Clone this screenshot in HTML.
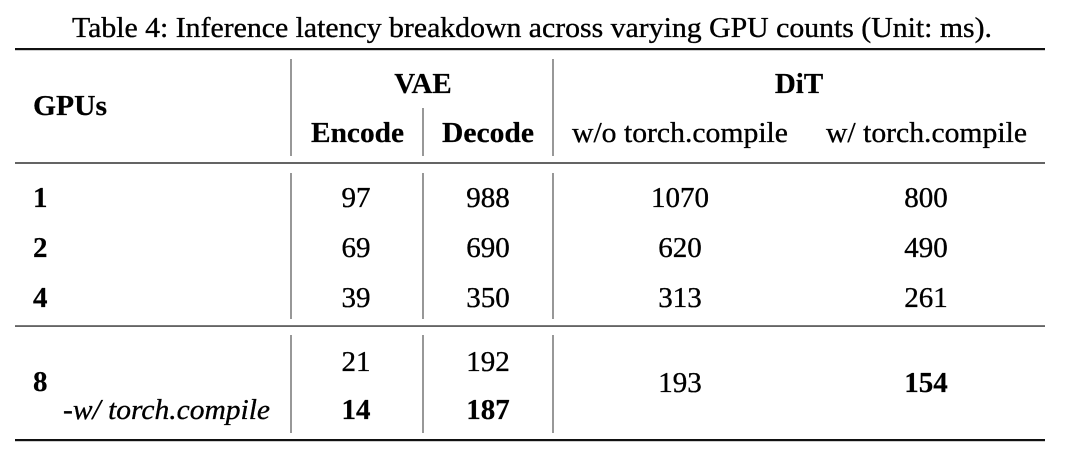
<!DOCTYPE html>
<html>
<head>
<meta charset="utf-8">
<style>
  html, body { margin: 0; padding: 0; background: #ffffff; }
  svg { display: block; }
  text { font-family: "Liberation Serif", "Times New Roman", serif; fill: #000000; stroke: #000000; stroke-width: 0.35px; font-size: 29px; }
  .b { font-weight: bold; stroke-width: 0.2px; }
  .i { font-style: italic; }
</style>
</head>
<body>
<svg width="1080" height="461" viewBox="0 0 1080 461" xmlns="http://www.w3.org/2000/svg">
  <rect x="0" y="0" width="1080" height="461" fill="#ffffff"/>

  <!-- Title -->
  <text x="72" y="37" textLength="920" lengthAdjust="spacingAndGlyphs">Table 4: Inference latency breakdown across varying GPU counts (Unit: ms).</text>

  <!-- Rules -->
  <rect x="15" y="48" width="1030" height="2.2" fill="#111"/>
  <rect x="15" y="162.3" width="1030" height="1.4" fill="#222"/>
  <rect x="15" y="325.4" width="1030" height="1.3" fill="#222"/>
  <rect x="15" y="439" width="1030" height="2.2" fill="#111"/>

  <!-- Vertical lines -->
  <g stroke="#6b6b6b" stroke-width="1.4">
    <line x1="291" y1="59" x2="291" y2="156"/>
    <line x1="553" y1="59" x2="553" y2="156"/>
    <line x1="423" y1="108" x2="423" y2="156"/>

    <line x1="291" y1="173" x2="291" y2="319"/>
    <line x1="423" y1="173" x2="423" y2="319"/>
    <line x1="553" y1="173" x2="553" y2="319"/>

    <line x1="291" y1="335" x2="291" y2="433"/>
    <line x1="423" y1="335" x2="423" y2="433"/>
    <line x1="553" y1="335" x2="553" y2="433"/>
  </g>

  <!-- Header -->
  <text class="b" x="33" y="115" textLength="74" lengthAdjust="spacingAndGlyphs">GPUs</text>
  <text class="b" x="423" y="93" text-anchor="middle">VAE</text>
  <text class="b" x="799" y="93" text-anchor="middle">DiT</text>
  <text class="b" x="311" y="142" textLength="93" lengthAdjust="spacingAndGlyphs">Encode</text>
  <text class="b" x="442" y="142" textLength="92" lengthAdjust="spacingAndGlyphs">Decode</text>
  <text x="572" y="142" textLength="216" lengthAdjust="spacingAndGlyphs">w/o torch.compile</text>
  <text x="826" y="142" textLength="201" lengthAdjust="spacingAndGlyphs">w/ torch.compile</text>

  <!-- Row 1 -->
  <text class="b" x="33" y="207">1</text>
  <text x="356" y="207" text-anchor="middle">97</text>
  <text x="488" y="207" text-anchor="middle">988</text>
  <text x="680" y="207" text-anchor="middle">1070</text>
  <text x="926" y="207" text-anchor="middle">800</text>

  <!-- Row 2 -->
  <text class="b" x="33" y="257">2</text>
  <text x="356" y="257" text-anchor="middle">69</text>
  <text x="488" y="257" text-anchor="middle">690</text>
  <text x="680" y="257" text-anchor="middle">620</text>
  <text x="926" y="257" text-anchor="middle">490</text>

  <!-- Row 4 -->
  <text class="b" x="33" y="307">4</text>
  <text x="356" y="307" text-anchor="middle">39</text>
  <text x="488" y="307" text-anchor="middle">350</text>
  <text x="680" y="307" text-anchor="middle">313</text>
  <text x="926" y="307" text-anchor="middle">261</text>

  <!-- Row 8 -->
  <text class="b" x="33" y="391">8</text>
  <text class="i" x="63" y="419" textLength="207" lengthAdjust="spacingAndGlyphs">-w/ torch.compile</text>
  <text x="356" y="371" text-anchor="middle">21</text>
  <text x="488" y="371" text-anchor="middle">192</text>
  <text class="b" x="356" y="419" text-anchor="middle">14</text>
  <text class="b" x="488" y="419" text-anchor="middle">187</text>
  <text x="680" y="392" text-anchor="middle">193</text>
  <text class="b" x="926" y="392" text-anchor="middle">154</text>
</svg>
</body>
</html>
